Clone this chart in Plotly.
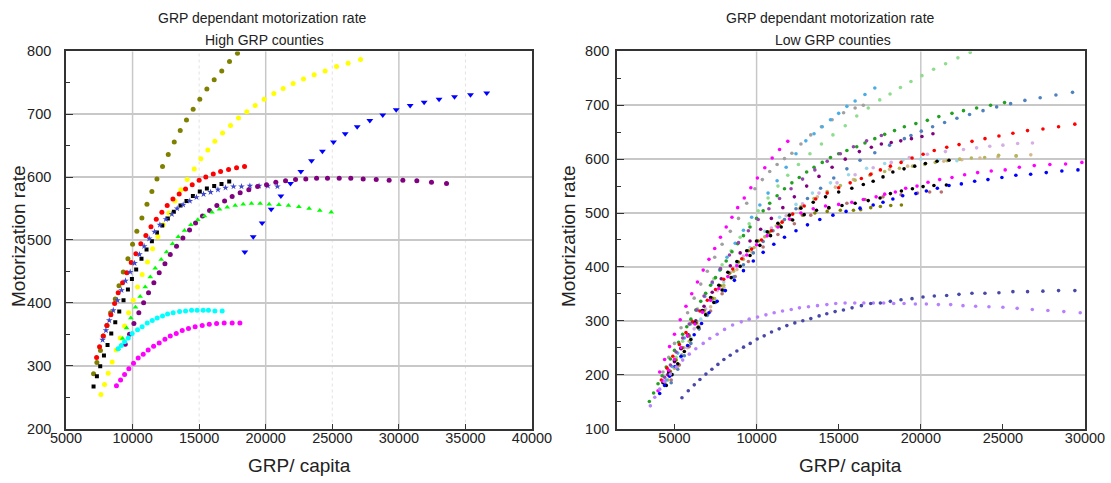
import plotly.graph_objects as go

# ---------------- Left chart: High GRP counties ----------------
olive_x = [7070,7320,7590,7800,8080,8350,8700,8980,9300,9650,10000,10320,10700,11080,11450,11830,12250,12680,13130,13580,14050,14550,15050,15580,16130,16700,17280,17880]
olive_y = [287,305,324,347,364,384,406,427,449,470,493,514,535,557,577,597,617,636,656,674,691,708,724,740,755,769,784,797]

yellow_x = [7620,7895,8170,8470,8770,9070,9400,9700,10050,10370,10720,11120,11500,11900,12300,12730,13180,13630,14100,14630,15130,15650,16180,16760,17360,17960,18580,19210,19880,20610,21310,22060,22840,23640,24460,25320,26190,27120]
yellow_y = [254,270,288,306,325,344,363,384,404,425,445,465,486,505,524,543,562,580,596,613,629,643,657,670,682,694,704,714,724,733,741,749,756,763,769,776,781,787]

blue_x = [18430,19060,19730,20410,21140,21860,22640,23440,24260,25090,25970,26870,27820,28790,29800,30850,31900,33020,34180,35380,36600]
blue_y = [481,505,527,549,570,590,609,626,641,656,669,680,690,699,707,714,719,724,728,731,734]

red_x = [7300,7520,7800,8070,8370,8650,8920,9250,9570,9900,10250,10620,11000,11380,11780,12200,12600,13030,13500,13980,14480,15000,15500,16060,16610,17210,17810,18410]
red_y = [313,330,347,364,381,399,416,432,448,464,478,494,507,521,533,544,555,565,573,581,588,595,600,605,609,612,615,617]

black_x = [7070,7320,7570,7850,8120,8400,8700,9000,9320,9650,9950,10270,10670,11050,11450,11830,12230,12650,13100,13600,14050,14530,15050,15580,16130,16680,17260]
black_y = [267,283,299,316,333,351,369,386,404,421,438,453,470,485,498,512,523,534,545,555,562,570,577,582,586,589,593]

navy_x = [7750,8000,8250,8550,8870,9170,9470,9820,10150,10520,10870,11250,11650,12050,12500,12950,13350,13800,14300,14800,15330,15860,16410,16980,17580,18180,18810,19500,20160,20880]
navy_y = [341,356,372,388,404,420,435,449,463,477,490,502,513,524,533,541,550,556,562,568,573,576,580,583,585,585,586,586,586,585]

purple_x = [9450,9770,10100,10470,10830,11200,11600,12000,12430,12830,13300,13780,14280,14730,15250,15780,16330,16910,17480,18080,18730,19390,20060,20760,21490,22240,23010,23820,24640,25520,26390,27320,28300,29270,30300,31350,32450,33580]
purple_y = [334,350,367,384,400,416,432,448,462,477,490,503,516,527,538,547,555,562,569,575,580,585,588,592,594,596,597,598,598,598,598,597,596,595,595,594,592,590]

green_x = [8920,9250,9550,9870,10220,10570,10950,11330,11700,12150,12550,13000,13430,13900,14380,14900,15400,15960,16530,17110,17710,18310,18930,19580,20260,20990,21710,22490,23260,24060,24920]
green_y = [327,343,360,376,393,410,425,441,455,469,481,494,505,515,524,532,538,544,549,552,555,557,558,558,557,556,555,553,550,547,544]

cyan_x = [8920,9150,9400,9680,9970,10370,10720,11100,11480,11850,12250,12630,13050,13530,13980,14430,14850,15300,15700,16180,16730]
cyan_y = [327,332,338,344,351,357,362,368,372,376,379,382,384,386,387,388,388,388,388,387,387]

magenta_x = [8790,9100,9400,9720,10070,10420,10800,11170,11580,12000,12430,12830,13280,13730,14200,14700,15230,15760,16310,16880,17480,18060]
magenta_y = [268,277,286,295,304,312,318,325,331,336,342,347,351,356,359,362,364,366,367,368,368,368]

left_series = [
    (olive_x, olive_y, "#808000", "circle", 5),
    (yellow_x, yellow_y, "#FFFF00", "circle", 5),
    (blue_x, blue_y, "#0000FF", "triangle-down", 6),
    (red_x, red_y, "#FF0000", "circle", 5),
    (black_x, black_y, "#000000", "square", 4),
    (navy_x, navy_y, "#3F48CC", "star", 5),
    (purple_x, purple_y, "#800080", "circle", 5),
    (green_x, green_y, "#00FF00", "triangle-up", 5),
    (cyan_x, cyan_y, "#00FFFF", "circle", 5),
    (magenta_x, magenta_y, "#FF00FF", "circle", 5),
]

# ---------------- Right chart: Low GRP counties ----------------
mag_top_x = [4100,4400,4700,5000,5350,5700,6050,6400,6750,7100,7450,7800,8150,8500,8850,9250,9650,10050,10500,10950,11400,11900]
mag_top_y = [205,228,252,275,302,327,350,372,394,414,434,455,474,492,510,528,547,565,584,602,618,633]

gray_x = [4300,4650,5000,5400,5800,6200,6600,7000,7450,7900,8400,8900,9400,9900,10350,10800,11250,11700,12150,12700,13300,13950,14600,15300,16000,16500]
gray_y = [205,232,258,287,315,342,368,392,418,442,466,490,518,545,562,577,590,601,611,628,645,660,673,686,695,700]

sky_x = [4500,4850,5200,5600,6000,6400,6850,7300,7750,8200,8700,9200,9700,10200,10700,11250,11800,12400,13000,13500,14000,14500,15000,15500,16000,16600,17200]
sky_y = [190,215,240,268,295,320,345,370,394,418,444,468,492,515,537,560,585,610,634,647,660,673,685,698,708,720,732]

lgreen_x = [4700,5100,5500,5950,6400,6900,7400,7900,8450,9000,9550,10100,10700,11300,11900,12550,13250,13950,14650,15400,16100,16800,17500,18130,18760,19400,20070,20780,21510,22260,23010]
lgreen_y = [203,232,262,293,322,350,378,404,430,455,480,504,528,550,570,590,610,628,645,662,680,695,710,721,733,744,755,767,777,788,798]

dgreen_x = [3470,3730,4000,4250,4500,4750,5000,5250,5500,5750,6000,6300,6600,6900,7200,7500,7800,8150,8500,8850,9200,9600,10000,10400,10800,11250,11700,12150,12600,13050,13500,14000,14500,15000,15500,16100,16600,17200,17800,18400,19000,19700,20400,21100,21900,22600,23400,24250,25100]
dgreen_y = [150,166,183,198,214,229,245,260,275,289,303,320,336,351,366,380,395,411,428,443,458,474,490,504,518,532,545,556,566,576,585,594,603,610,616,623,630,638,646,653,660,666,672,679,685,690,695,700,705]

steel_x = [4800,5200,5600,6000,6500,7000,7500,8000,8600,9200,9800,10400,11000,11700,12400,13100,13900,14700,15500,16300,17200,18100,19000,19400,20030,20720,21450,22200,22970,23790,24620,25470,26340,27270,28230,29240]
steel_y = [185,210,235,258,285,310,334,356,381,404,426,447,467,488,508,527,546,565,582,598,612,626,638,644,652,660,668,676,683,690,697,703,709,714,719,724]

rred_x = [4200,4550,4900,5300,5700,6100,6550,7000,7500,8000,8550,9100,9700,10300,10900,11550,12200,12900,13600,14300,15000,15700,16380,16950,17540,18150,18800,19470,20140,20820,21580,22330,23120,23910,24760,25610,26500,27440,28390,29380]
rred_y = [190,212,234,256,278,298,318,338,358,377,396,415,433,450,467,483,498,513,526,537,547,556,564,572,580,587,594,602,609,616,622,627,633,638,643,648,653,656,660,665]

mag_low_x = [4000,4300,4650,5000,5400,5800,6250,6700,7200,7700,8250,8800,9400,10000,10650,11300,12000,12700,13450,14200,15000,15800,16500,17280,17800,18450,19080,19770,20440,21150,21900,22670,23460,24290,25140,26000,26910,27860,28820,29810]
mag_low_y = [170,188,208,228,250,272,294,316,338,360,382,402,422,441,458,474,489,500,508,513,516,520,525,530,535,539,546,550,557,562,566,571,575,578,580,585,588,590,591,594]

rblue_x = [4100,4400,4700,5050,5400,5800,6200,6650,7100,7600,8100,8650,9200,9800,10400,11050,11700,12400,13100,13850,14650,15450,16300,17100,17700,18300,18900,19700,20340,21010,21720,22470,23280,24090,24940,25790,26690,27640,28590,29570]
rblue_y = [165,180,197,215,234,254,274,295,315,336,356,375,393,411,427,442,455,467,478,488,496,503,509,515,520,526,532,536,541,546,551,554,559,562,566,570,572,575,578,580]

black1_x = [4300,4650,5000,5400,5800,6250,6700,7200,7700,8250,8800,9400,10000,10650,11300,12000,12700,13450,14200,15000,15800,16500,17100,17700,18300,18980,19630,20280,20990,21720]
black1_y = [185,205,226,249,272,296,319,343,366,390,410,430,448,465,481,496,509,520,530,539,546,553,559,567,576,582,587,592,596,598]

black2_x = [4500,4850,5200,5600,6000,6450,6900,7400,7900,8450,9000,9600,10200,10850,11500,12200,12900,13650,14400,15200,16000,16800,17520,18150,18820,19490,20140,20800,21560]
black2_y = [180,200,220,243,265,288,311,334,357,380,401,421,440,458,474,487,497,505,510,514,518,523,528,536,541,545,549,551,552]

rolive_x = [4400,4750,5100,5500,5900,6350,6800,7300,7800,8350,8900,9500,10100,10750,11400,12100,12800,13550,14300,15100,15900,16340,16950,17540,18170,18820]
rolive_y = [185,206,227,250,272,296,319,342,365,388,409,430,448,464,477,488,496,500,503,505,505,506,510,512,514,515]

lolive_x = [4600,5000,5450,5900,6400,6900,7450,8000,8600,9200,9850,10500,11200,11950,12700,13500,14300,15100,16000,16900,17800,18700,19500,20240,20880,21600,22370,23080,23890,24740,25810]
lolive_y = [190,212,237,262,288,314,341,366,392,414,436,456,476,495,512,527,540,551,561,570,577,583,587,590,594,597,600,602,603,607,606]

rpurple_x = [4600,5000,5400,5850,6300,6800,7300,7850,8400,9000,9600,10250,10900,11600,12300,13050,13800,14600,15400,16260,16990,17600,18200,18780,19430,20070,20740]
rpurple_y = [200,224,248,274,300,327,353,378,402,426,448,470,490,510,530,550,568,585,600,614,622,628,631,634,638,642,647]

purple2_x = [4400,4750,5100,5500,5900,6350,6800,7300,7800,8350,8900,9500,10100,10750,11400,12100,12800,13550,14300,15100,15900,16700,17600]
purple2_y = [195,218,242,268,294,320,346,372,397,422,445,467,488,508,527,545,563,580,596,610,623,634,644]

violet_x = [3530,3800,4100,4400,4750,5100,5500,5900,6300,6750,7150,7600,8050,8540,9070,9550,10060,10570,11070,11580,12110,12610,13160,13710,14280,14820,15390,15980,16530,17110,17740,18350,18980,19670,20340,21070,21820,22570,23340,24150,25000,25870,26790,27740,28710,29710]
violet_y = [142,158,173,187,201,214,227,238,248,258,267,275,284,292,298,303,307,311,315,318,321,324,326,328,330,332,333,333,333,333,333,332,332,331,331,330,330,328,327,326,325,323,321,319,317,315]

rnavy_x = [5455,5840,6205,6550,6915,7280,7645,8010,8395,8800,9207,9612,10038,10464,10910,11376,11843,12330,12816,13303,13810,14276,14783,15290,15815,16383,16951,17539,18147,18796,19466,20135,20824,21575,22325,23116,23907,24759,25610,26502,27436,28389,29383]
rnavy_y = [157,170,181,191,201,210,219,228,236,244,251,258,266,272,279,285,291,296,300,304,309,313,317,320,324,328,332,333,336,339,341,344,346,347,349,351,351,352,354,354,355,356,356]

lavender_x = [5000,5600,6200,6900,7600,8400,9200,10000,10900,11800,12800,13800,14900,16000,17100,18200,19300,20400,21500,22600,23400,24200,25000,25900,26800]
lavender_y = [215,250,285,322,356,390,420,447,472,495,517,537,556,571,584,594,603,609,614,618,621,624,626,629,630]

tan_x = [5200,5800,6500,7200,8000,8800,9700,10600,11600,12600,13700,14800,15900,17000,18100,19200,20300,21400,22500,23600,24700,25800,26700]
tan_y = [215,250,290,326,362,395,428,457,485,508,530,548,562,573,581,587,592,596,599,602,604,606,608]

rosy_x = [4800,5300,5900,6500,7200,7900,8700,9500,10400,11300,12300,13300,14400,15500,16600,17700,18800,19800,20540,21250]
rosy_y = [190,218,252,285,318,350,382,410,437,460,480,496,509,518,525,530,534,537,539,539]

lcyan_x = [4900,5400,6000,6600,7300,8000,8800,9600,10500,11400,12400,13400,14500,15600,16700,17800,18900,20000,21100,22200]
lcyan_y = [200,232,268,303,338,372,405,436,466,492,516,537,556,571,583,592,598,600,599,597]

right_series = [
    (lcyan_x, lcyan_y, "#9AD8E8"),
    (lavender_x, lavender_y, "#D4AEE4"),
    (tan_x, tan_y, "#D8B890"),
    (rosy_x, rosy_y, "#B87070"),
    (lolive_x, lolive_y, "#B5B55A"),
    (gray_x, gray_y, "#A0A0A0"),
    (lgreen_x, lgreen_y, "#8EDC8E"),
    (sky_x, sky_y, "#4AAEE6"),
    (steel_x, steel_y, "#4F81BD"),
    (dgreen_x, dgreen_y, "#22A022"),
    (rpurple_x, rpurple_y, "#800080"),
    (purple2_x, purple2_y, "#9A40B0"),
    (rred_x, rred_y, "#FF0000"),
    (rolive_x, rolive_y, "#808000"),
    (black1_x, black1_y, "#000000"),
    (black2_x, black2_y, "#000000"),
    (mag_low_x, mag_low_y, "#FF00FF"),
    (rblue_x, rblue_y, "#0000FF"),
    (mag_top_x, mag_top_y, "#FF00FF"),
    (violet_x, violet_y, "#B880FF"),
    (rnavy_x, rnavy_y, "#4848A8"),
]

left_xticks = [5000, 10000, 15000, 20000, 25000, 30000, 35000, 40000]
right_xticks = [5000, 10000, 15000, 20000, 25000, 30000]

fig = go.Figure()
for xs, ys, col, sym, sz in left_series:
    fig.add_trace(go.Scatter(x=xs, y=ys, mode="markers", xaxis="x", yaxis="y",
                             marker=dict(color=col, symbol=sym, size=sz, line=dict(width=0)),
                             showlegend=False, hoverinfo="skip"))
for xs, ys, col in right_series:
    fig.add_trace(go.Scatter(x=xs, y=ys, mode="markers", xaxis="x2", yaxis="y2",
                             marker=dict(color=col, symbol="circle", size=3.6, line=dict(width=0)),
                             showlegend=False, hoverinfo="skip"))

FONT = "Liberation Sans, Arial, sans-serif"
TXT = "#222222"
GRID = "#C8C8C8"
FRAME = "#333333"

def xaxis_cfg(domain, rng, ticks):
    return dict(domain=domain, range=rng, tickvals=ticks, ticktext=[str(t) for t in ticks],
                showgrid=False, zeroline=False, showline=True, mirror=True, automargin=False,
                linecolor=FRAME, linewidth=1.6, ticks="inside", ticklen=5, tickcolor=FRAME,
                ticklabelstandoff=-5,
                tickfont=dict(family=FONT, size=14.5, color=TXT))

def yaxis_cfg(domain, rng, anchor, standoff):
    return dict(domain=domain, range=rng, dtick=100, tick0=0, anchor=anchor, automargin=False,
                showgrid=True, gridcolor=GRID, gridwidth=1.5, zeroline=False,
                showline=True, mirror=True, linecolor=FRAME, linewidth=1.6,
                ticks="inside", ticklen=7, tickcolor=FRAME, ticklabelstandoff=standoff,
                minor=dict(dtick=50, ticks="inside", ticklen=4, tickcolor=FRAME, showgrid=False),
                tickfont=dict(family=FONT, size=14.5, color=TXT))

YDOM = [1 - 428.5 / 483, 1 - 51.4 / 483]
xa = xaxis_cfg([66 / 1111, 532 / 1111], [5000, 40000], left_xticks)
xa["anchor"] = "y"
xb = xaxis_cfg([617 / 1111, 1085 / 1111], [1500, 30000], right_xticks)
xb["anchor"] = "y2"

shapes = []
for gx in [10000, 20000, 30000]:
    shapes.append(dict(type="line", xref="x", yref="y domain", x0=gx, x1=gx, y0=0, y1=1,
                       line=dict(color=GRID, width=1.5), layer="below"))
for gx in [15000, 25000, 35000]:
    shapes.append(dict(type="line", xref="x", yref="y domain", x0=gx, x1=gx, y0=0, y1=1,
                       line=dict(color="#E2E2E2", width=1, dash="dot"), layer="below"))
for gx in [10000, 20000]:
    shapes.append(dict(type="line", xref="x2", yref="y2 domain", x0=gx, x1=gx, y0=0, y1=1,
                       line=dict(color=GRID, width=1.5), layer="below"))

def txt(text, xpx, ypx, size, angle=0):
    return dict(text=text, x=xpx / 1111, y=1 - ypx / 483, xref="paper", yref="paper",
                xanchor="center", yanchor="middle", showarrow=False, textangle=angle,
                font=dict(family=FONT, size=size, color=TXT))

annotations = [
    txt("GRP dependant motorization rate", 262, 18, 14),
    txt("High GRP counties", 264, 40, 14),
    txt("GRP dependant motorization rate", 830, 18, 14),
    txt("Low GRP counties", 833, 40, 14),
    txt("Motorization rate", 18, 236, 19, -90),
    txt("Motorization rate", 568, 236, 19, -90),
    txt("GRP/ capita", 299, 465, 19),
    txt("GRP/ capita", 850, 465, 19),
]

fig.update_layout(
    width=1111, height=483, margin=dict(l=0, r=0, t=0, b=0, pad=0, autoexpand=False),
    paper_bgcolor="white", plot_bgcolor="white",
    xaxis=xa, yaxis=yaxis_cfg(YDOM, [200, 800], "x", 10),
    xaxis2=xb, yaxis2=yaxis_cfg(YDOM, [100, 800], "x2", 3),
    shapes=shapes, annotations=annotations, showlegend=False,
)

fig.write_html("out.html", config={"displayModeBar": False},
               post_script="document.body.style.margin='0';")
